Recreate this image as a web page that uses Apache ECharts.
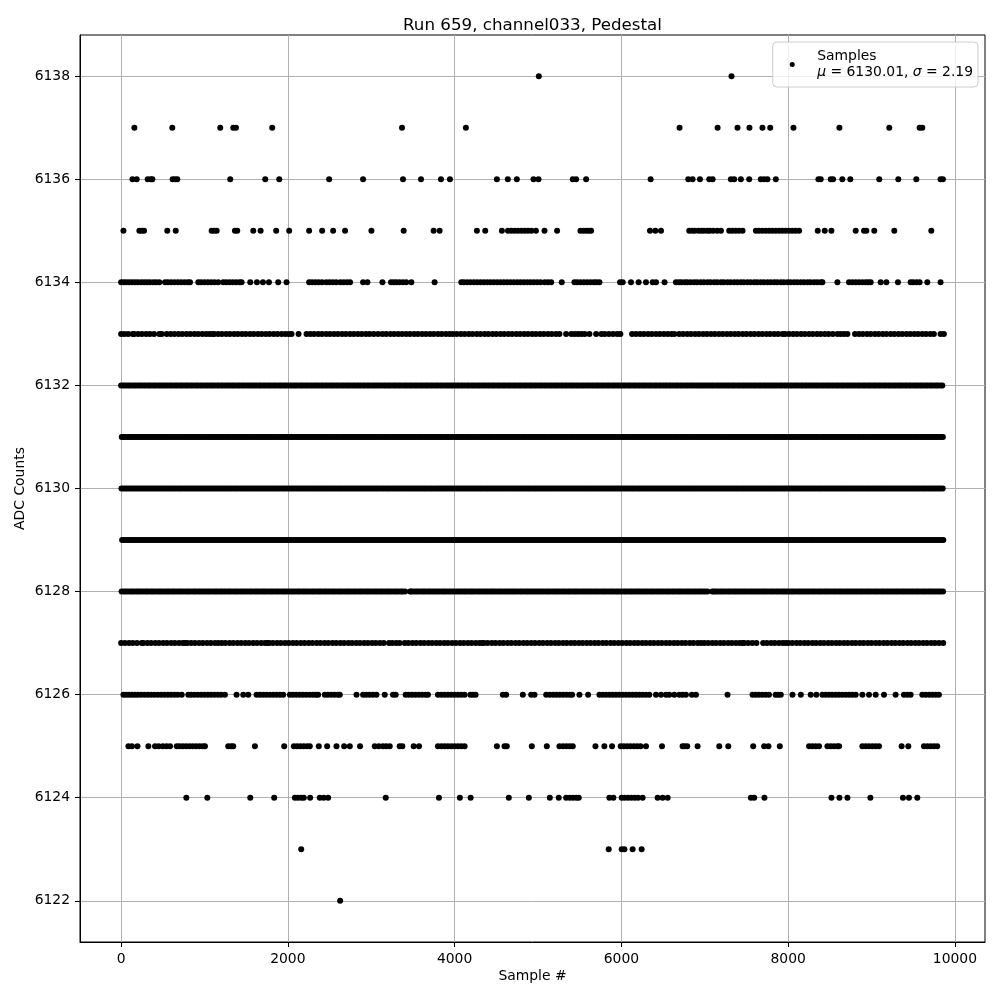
<!DOCTYPE html>
<html>
<head>
<meta charset="utf-8">
<title>Run 659, channel033, Pedestal</title>
<script src="https://cdn.jsdelivr.net/npm/echarts@6.0.0/dist/echarts.min.js"></script>
<style>
  html, body { margin: 0; padding: 0; background: #fff; }
  #chart { width: 1000px; height: 1000px; }
</style>
</head>
<body>
<div id="chart"></div>
<script>
// sample numbers, one array per ADC value
const s6138 = [5010, 7321];
const s6137 = [159, 614, 1189, 1345, 1378, 1812, 3369, 4135, 6698, 7154, 7393, 7536, 7692, 7785, 8064, 8615, 9213, 9577, 9609];
const s6136 = [136, 187, 319, 355, 375, 618, 647, 674, 1309, 1729, 1897, 2495, 2902, 3381, 3597, 3836, 3944, 4507, 4638, 4746, 4946, 5006, 5417, 5457, 5577, 6351, 6802, 6854, 6942, 7054, 7094, 7313, 7353, 7433, 7533, 7672, 7712, 7752, 7852, 8363, 8391, 8511, 8539, 8650, 8746, 9093, 9321, 9537, 9828, 9856];
const s6135 = [28, 219, 247, 275, 554, 655, 1086, 1114, 1146, 1365, 1393, 1585, 1673, 1860, 2016, 2255, 2411, 2543, 2686, 3002,
  3389, 3748, 3820, 4267, 4367, 4567, 4640, 4680, 4720, 4760, 4800, 4840, 4880, 4920, 4975, 5078, 5229, 5509, 5545, 5580, 5610, 5637, 6343, 6407, 6475,
  6814, 6850, 6880, 6925, 6960, 6990, 7030, 7060, 7100, 7150, 7194, 7293, 7330, 7370, 7410, 7453,
  7613, 7650, 7690, 7730, 7770, 7810, 7850, 7890, 7930, 7970, 8010, 8050, 8090, 8132, 8355, 8439, 8519, 8810, 8910, 8938, 9033, 9273, 9717];
const s6134 = [0, 30, 60, 95, 130, 165, 200, 240, 275, 310, 345, 385, 420, 458, 527, 560, 600, 640, 680, 720, 760, 800, 826,
  926, 960, 1000, 1040, 1080, 1120, 1165, 1225, 1260, 1300, 1340, 1380, 1420, 1445, 1549, 1629, 1701, 1773, 1884, 1984,
  2255, 2290, 2330, 2370, 2410, 2460, 2500, 2540, 2580, 2630, 2670, 2710, 2746, 2902, 2954, 3134, 3237, 3270, 3302, 3340, 3380, 3420, 3481, 3760,
  4080, 4110, 4150, 4190, 4230, 4270, 4310, 4350, 4390, 4430, 4470, 4510, 4550, 4590, 4630, 4670, 4710, 4750, 4790, 4830, 4870, 4910, 4950, 4990, 5030, 5080, 5120, 5158,
  5285, 5437, 5470, 5510, 5550, 5590, 5630, 5670, 5700, 5737, 5984, 6016, 6115, 6207, 6295, 6375, 6415, 6518, 6654, 6690, 6720, 6760, 6790,
  6830, 6872, 6908, 6951, 6989, 7033, 7068, 7112, 7149, 7193, 7228, 7271, 7309, 7352, 7391, 7433, 7468, 7512, 7549, 7593, 7628, 7671, 7709, 7752, 7791, 7833, 7868, 7912, 7949, 7993, 8028, 8071, 8109, 8152, 8191, 8233, 8268, 8312, 8349, 8392, 8411,
  8591, 8730, 8770, 8810, 8850, 8890, 8930, 8960, 8990, 9110, 9178, 9317, 9469, 9500, 9540, 9577, 9669, 9828];
const s6133 = [0, 40, 85, 139, 159, 205, 250, 300, 345, 395, 458, 487,
  547, 595, 640, 690, 735, 785, 830, 880, 925, 975, 1020, 1060, 1094,
  1118, 1165, 1210, 1260, 1305, 1355, 1400, 1450, 1495, 1545, 1590, 1640, 1685, 1735, 1780, 1830, 1875, 1925, 1970, 2010, 2044, 2128,
  2224, 2270, 2315, 2365, 2410, 2460, 2505, 2555, 2600, 2650, 2695, 2745, 2790, 2840, 2885, 2935, 2980, 3030, 3082,
  3134, 3180, 3230, 3275, 3325, 3370, 3420, 3465, 3515, 3560, 3610, 3655, 3705, 3750, 3800, 3845, 3895, 3940,
  3980, 4025, 4075, 4120, 4170, 4215, 4265, 4310, 4360, 4405, 4455, 4500, 4550, 4595, 4645, 4690, 4740, 4785, 4835, 4880, 4930, 4975, 5025, 5070, 5120, 5165, 5215, 5257,
  5337, 5400, 5440, 5480, 5520, 5560, 5617, 5697, 5760, 5800, 5850, 5900, 5950, 5988,
  6128, 6175, 6225, 6270, 6320, 6365, 6415, 6460, 6510, 6555, 6600, 6635,
  6694, 6740, 6790, 6835, 6885, 6930, 6980, 7025, 7075, 7120, 7170, 7215, 7265, 7310, 7360, 7405, 7455, 7500, 7550, 7595, 7645, 7690, 7740, 7785, 7835, 7880, 7932,
  7964, 8010, 8060, 8105, 8155, 8200, 8250, 8295, 8345, 8390, 8440, 8485, 8535, 8591, 8631, 8670, 8711,
  8802, 8850, 8895, 8945, 8990, 9040, 9085, 9135, 9180, 9230, 9275, 9325, 9370, 9420, 9465, 9515, 9560, 9610, 9655, 9705, 9748, 9828, 9868];
const s6132 = [0,26,49,76,99,125,152,174,201,224, 250,276,299,326,349,375,402,424,451,474,
  500,526,549,576,599,625,652,674,701,724, 750,776,799,826,849,875,902,924,951,974,
  1000,1026,1049,1076,1099,1125,1152,1174,1201,1224, 1250,1276,1299,1326,1349,1375,1402,1424,1451,1474,
  1500,1526,1549,1576,1599,1625,1652,1674,1701,1724, 1750,1776,1799,1826,1849,1875,1902,1924,1951,1974,
  2000,2026,2049,2076,2099,2125,2152,2174,2201,2224, 2250,2276,2299,2326,2349,2375,2402,2424,2451,2474,
  2500,2526,2549,2576,2599,2625,2652,2674,2701,2724, 2750,2776,2799,2826,2849,2875,2902,2924,2951,2974,
  3000,3026,3049,3076,3099,3125,3152,3174,3201,3224, 3250,3276,3299,3326,3349,3375,3402,3424,3451,3474,
  3500,3526,3549,3576,3599,3625,3652,3674,3701,3724, 3750,3776,3799,3826,3849,3875,3902,3924,3951,3974,
  4000,4026,4049,4076,4099,4125,4152,4174,4201,4224, 4250,4276,4299,4326,4349,4375,4402,4424,4451,4474,
  4500,4526,4549,4576,4599,4625,4652,4674,4701,4724, 4750,4776,4799,4826,4849,4875,4902,4924,4951,4974,
  5000,5026,5049,5076,5099,5125,5152,5174,5201,5224, 5250,5276,5299,5326,5349,5375,5402,5424,5451,5474,
  5500,5526,5549,5576,5599,5625,5652,5674,5701,5724, 5750,5776,5799,5826,5849,5875,5902,5924,5951,5974,
  6000,6026,6049,6076,6099,6125,6152,6174,6201,6224, 6250,6276,6299,6326,6349,6375,6402,6424,6451,6474,
  6500,6526,6549,6576,6599,6625,6652,6674,6701,6724, 6750,6776,6799,6826,6849,6875,6902,6924,6951,6974,
  7000,7026,7049,7076,7099,7125,7152,7174,7201,7224, 7250,7276,7299,7326,7349,7375,7402,7424,7451,7474,
  7500,7526,7549,7576,7599,7625,7652,7674,7701,7724, 7750,7776,7799,7826,7849,7875,7902,7924,7951,7974,
  8000,8026,8049,8076,8099,8125,8152,8174,8201,8224, 8250,8276,8299,8326,8349,8375,8402,8424,8451,8474,
  8500,8526,8549,8576,8599,8625,8652,8674,8701,8724, 8750,8776,8799,8826,8849,8875,8902,8924,8951,8974,
  9000,9026,9049,9076,9099,9125,9152,9174,9201,9224, 9250,9276,9299,9326,9349,9375,9402,9424,9451,9474,
  9500,9526,9549,9576,9599,9625,9652,9674,9701,9724, 9750,9776,9799,9826,9849];
const s6131 = [8,31,57,83,106,133,158,181,207,232, 258,281,307,333,356,383,408,431,457,482,
  508,531,557,583,606,633,658,681,707,732, 758,781,807,833,856,883,908,931,957,982,
  1008,1031,1057,1083,1106,1133,1158,1181,1207,1232, 1258,1281,1307,1333,1356,1383,1408,1431,1457,1482,
  1508,1531,1557,1583,1606,1633,1658,1681,1707,1732, 1758,1781,1807,1833,1856,1883,1908,1931,1957,1982,
  2008,2031,2057,2083,2106,2133,2158,2181,2207,2232, 2258,2281,2307,2333,2356,2383,2408,2431,2457,2482,
  2508,2531,2557,2583,2606,2633,2658,2681,2707,2732, 2758,2781,2807,2833,2856,2883,2908,2931,2957,2982,
  3008,3031,3057,3083,3106,3133,3158,3181,3207,3232, 3258,3281,3307,3333,3356,3383,3408,3431,3457,3482,
  3508,3531,3557,3583,3606,3633,3658,3681,3707,3732, 3758,3781,3807,3833,3856,3883,3908,3931,3957,3982,
  4008,4031,4057,4083,4106,4133,4158,4181,4207,4232, 4258,4281,4307,4333,4356,4383,4408,4431,4457,4482,
  4508,4531,4557,4583,4606,4633,4658,4681,4707,4732, 4758,4781,4807,4833,4856,4883,4908,4931,4957,4982,
  5008,5031,5057,5083,5106,5133,5158,5181,5207,5232, 5258,5281,5307,5333,5356,5383,5408,5431,5457,5482,
  5508,5531,5557,5583,5606,5633,5658,5681,5707,5732, 5758,5781,5807,5833,5856,5883,5908,5931,5957,5982,
  6008,6031,6057,6083,6106,6133,6158,6181,6207,6232, 6258,6281,6307,6333,6356,6383,6408,6431,6457,6482,
  6508,6531,6557,6583,6606,6633,6658,6681,6707,6732, 6758,6781,6807,6833,6856,6883,6908,6931,6957,6982,
  7008,7031,7057,7083,7106,7133,7158,7181,7207,7232, 7258,7281,7307,7333,7356,7383,7408,7431,7457,7482,
  7508,7531,7557,7583,7606,7633,7658,7681,7707,7732, 7758,7781,7807,7833,7856,7883,7908,7931,7957,7982,
  8008,8031,8057,8083,8106,8133,8158,8181,8207,8232, 8258,8281,8307,8333,8356,8383,8408,8431,8457,8482,
  8508,8531,8557,8583,8606,8633,8658,8681,8707,8732, 8758,8781,8807,8833,8856,8883,8908,8931,8957,8982,
  9008,9031,9057,9083,9106,9133,9158,9181,9207,9232, 9258,9281,9307,9333,9356,9383,9408,9431,9457,9482,
  9508,9531,9557,9583,9606,9633,9658,9681,9707,9732, 9758,9781,9807,9833,9856];
const s6130 = [4,29,54,78,104,129,153,179,204,228, 254,279,304,328,354,379,403,429,454,478,
  504,529,554,578,604,629,653,679,704,728, 754,779,804,828,854,879,903,929,954,978,
  1004,1029,1054,1078,1104,1129,1153,1179,1204,1228, 1254,1279,1304,1328,1354,1379,1403,1429,1454,1478,
  1504,1529,1554,1578,1604,1629,1653,1679,1704,1728, 1754,1779,1804,1828,1854,1879,1903,1929,1954,1978,
  2004,2029,2054,2078,2104,2129,2153,2179,2204,2228, 2254,2279,2304,2328,2354,2379,2403,2429,2454,2478,
  2504,2529,2554,2578,2604,2629,2653,2679,2704,2728, 2754,2779,2804,2828,2854,2879,2903,2929,2954,2978,
  3004,3029,3054,3078,3104,3129,3153,3179,3204,3228, 3254,3279,3304,3328,3354,3379,3403,3429,3454,3478,
  3504,3529,3554,3578,3604,3629,3653,3679,3704,3728, 3754,3779,3804,3828,3854,3879,3903,3929,3954,3978,
  4004,4029,4054,4078,4104,4129,4153,4179,4204,4228, 4254,4279,4304,4328,4354,4379,4403,4429,4454,4478,
  4504,4529,4554,4578,4604,4629,4653,4679,4704,4728, 4754,4779,4804,4828,4854,4879,4903,4929,4954,4978,
  5004,5029,5054,5078,5104,5129,5153,5179,5204,5228, 5254,5279,5304,5328,5354,5379,5403,5429,5454,5478,
  5504,5529,5554,5578,5604,5629,5653,5679,5704,5728, 5754,5779,5804,5828,5854,5879,5903,5929,5954,5978,
  6004,6029,6054,6078,6104,6129,6153,6179,6204,6228, 6254,6279,6304,6328,6354,6379,6403,6429,6454,6478,
  6504,6529,6554,6578,6604,6629,6653,6679,6704,6728, 6754,6779,6804,6828,6854,6879,6903,6929,6954,6978,
  7004,7029,7054,7078,7104,7129,7153,7179,7204,7228, 7254,7279,7304,7328,7354,7379,7403,7429,7454,7478,
  7504,7529,7554,7578,7604,7629,7653,7679,7704,7728, 7754,7779,7804,7828,7854,7879,7903,7929,7954,7978,
  8004,8029,8054,8078,8104,8129,8153,8179,8204,8228, 8254,8279,8304,8328,8354,8379,8403,8429,8454,8478,
  8504,8529,8554,8578,8604,8629,8653,8679,8704,8728, 8754,8779,8804,8828,8854,8879,8903,8929,8954,8978,
  9004,9029,9054,9078,9104,9129,9153,9179,9204,9228, 9254,9279,9304,9328,9354,9379,9403,9429,9454,9478,
  9504,9529,9554,9578,9604,9629,9653,9679,9704,9728, 9754,9779,9804,9828,9854];
const s6129 = [12,36,61,87,111,137,161,186,212,236, 262,286,311,337,361,387,411,436,462,486,
  512,536,561,587,611,637,661,686,712,736, 762,786,811,837,861,887,911,936,962,986,
  1012,1036,1061,1087,1111,1137,1161,1186,1212,1236, 1262,1286,1311,1337,1361,1387,1411,1436,1462,1486,
  1512,1536,1561,1587,1611,1637,1661,1686,1712,1736, 1762,1786,1811,1837,1861,1887,1911,1936,1962,1986,
  2012,2036,2061,2087,2111,2137,2161,2186,2212,2236, 2262,2286,2311,2337,2361,2387,2411,2436,2462,2486,
  2512,2536,2561,2587,2611,2637,2661,2686,2712,2736, 2762,2786,2811,2837,2861,2887,2911,2936,2962,2986,
  3012,3036,3061,3087,3111,3137,3161,3186,3212,3236, 3262,3286,3311,3337,3361,3387,3411,3436,3462,3486,
  3512,3536,3561,3587,3611,3637,3661,3686,3712,3736, 3762,3786,3811,3837,3861,3887,3911,3936,3962,3986,
  4012,4036,4061,4087,4111,4137,4161,4186,4212,4236, 4262,4286,4311,4337,4361,4387,4411,4436,4462,4486,
  4512,4536,4561,4587,4611,4637,4661,4686,4712,4736, 4762,4786,4811,4837,4861,4887,4911,4936,4962,4986,
  5012,5036,5061,5087,5111,5137,5161,5186,5212,5236, 5262,5286,5311,5337,5361,5387,5411,5436,5462,5486,
  5512,5536,5561,5587,5611,5637,5661,5686,5712,5736, 5762,5786,5811,5837,5861,5887,5911,5936,5962,5986,
  6012,6036,6061,6087,6111,6137,6161,6186,6212,6236, 6262,6286,6311,6337,6361,6387,6411,6436,6462,6486,
  6512,6536,6561,6587,6611,6637,6661,6686,6712,6736, 6762,6786,6811,6837,6861,6887,6911,6936,6962,6986,
  7012,7036,7061,7087,7111,7137,7161,7186,7212,7236, 7262,7286,7311,7337,7361,7387,7411,7436,7462,7486,
  7512,7536,7561,7587,7611,7637,7661,7686,7712,7736, 7762,7786,7811,7837,7861,7887,7911,7936,7962,7986,
  8012,8036,8061,8087,8111,8137,8161,8186,8212,8236, 8262,8286,8311,8337,8361,8387,8411,8436,8462,8486,
  8512,8536,8561,8587,8611,8637,8661,8686,8712,8736, 8762,8786,8811,8837,8861,8887,8911,8936,8962,8986,
  9012,9036,9061,9087,9111,9137,9161,9186,9212,9236, 9262,9286,9311,9337,9361,9387,9411,9436,9462,9486,
  9512,9536,9561,9587,9611,9637,9661,9686,9712,9736, 9762,9786,9811,9837,9861];
const s6128 = [6,33,56,81,108,131,156,183,206,231, 256,283,306,331,358,381,406,433,456,481,
  506,533,556,581,608,631,656,683,706,731, 756,783,806,831,858,881,906,933,956,981,
  1006,1033,1056,1081,1108,1131,1156,1183,1206,1231, 1256,1283,1306,1331,1358,1381,1406,1433,1456,1481,
  1506,1533,1556,1581,1608,1631,1656,1683,1706,1731, 1756,1783,1806,1831,1858,1881,1906,1933,1956,1981,
  2006,2033,2056,2081,2108,2131,2156,2183,2206,2231, 2256,2283,2306,2331,2358,2381,2406,2433,2456,2481,
  2506,2533,2556,2581,2608,2631,2656,2683,2706,2731, 2756,2783,2806,2831,2858,2881,2906,2933,2956,2981,
  3006,3033,3056,3081,3108,3131,3156,3183,3206,3231, 3256,3283,3306,3331,3358,3381,3406,3466,3481,
  3506,3533,3556,3581,3608,3631,3656,3683,3706,3731, 3756,3783,3806,3831,3858,3881,3906,3933,3956,3981,
  4006,4033,4056,4081,4108,4131,4156,4183,4206,4231, 4256,4283,4306,4331,4358,4381,4406,4433,4456,4481,
  4506,4533,4556,4581,4608,4631,4656,4683,4706,4731, 4756,4783,4806,4831,4858,4881,4906,4933,4956,4981,
  5006,5033,5056,5081,5108,5131,5156,5183,5206,5231, 5256,5283,5306,5331,5358,5381,5406,5433,5456,5481,
  5506,5533,5556,5581,5608,5631,5656,5683,5706,5731, 5756,5783,5806,5831,5858,5881,5906,5933,5956,5981,
  6006,6033,6056,6081,6108,6131,6156,6183,6206,6231, 6256,6283,6306,6331,6358,6381,6406,6433,6456,6481,
  6506,6533,6556,6581,6608,6631,6656,6683,6706,6731, 6756,6783,6806,6831,6858,6881,6906,6933,6956,6981,
  7006,7033,7090,7108,7131,7156,7183,7206,7231, 7256,7283,7306,7331,7358,7381,7406,7433,7456,7481,
  7506,7533,7556,7581,7608,7631,7656,7683,7706,7731, 7756,7783,7806,7831,7858,7881,7906,7933,7956,7981,
  8006,8033,8056,8081,8108,8131,8156,8183,8206,8231, 8256,8283,8306,8331,8358,8381,8406,8433,8456,8481,
  8506,8533,8556,8581,8608,8631,8656,8683,8706,8731, 8756,8783,8806,8831,8858,8881,8906,8933,8956,8981,
  9006,9033,9056,9081,9108,9131,9156,9183,9206,9231, 9256,9283,9306,9331,9358,9381,9406,9433,9456,9481,
  9506,9533,9556,9581,9608,9631,9656,9683,9706,9731, 9756,9783,9806,9831,9858];
const s6127 = [0, 45, 95, 140, 190, 247, 267, 315, 360, 410, 455, 505, 550, 600, 645, 695, 740, 766,
  794, 840, 885, 935, 980, 1030, 1075, 1125, 1165, 1206, 1250, 1300, 1345, 1395, 1440, 1490, 1535, 1585, 1630, 1680, 1725, 1752,
  1776, 1820, 1870, 1915, 1965, 2010, 2060, 2105, 2155, 2200, 2250, 2295, 2345, 2390, 2440, 2485, 2535, 2580, 2630, 2675, 2725, 2770, 2820, 2865, 2915, 2960, 3010, 3055, 3105, 3150, 3213,
  3253, 3300, 3341, 3401, 3445, 3495, 3540, 3590, 3635, 3685, 3730, 3780, 3825, 3875, 3920, 3970, 4015, 4065, 4110, 4160, 4205, 4255, 4300, 4331,
  4351, 4395, 4445, 4490, 4540, 4585, 4635, 4680, 4730, 4775, 4825, 4870, 4920, 4965, 5015, 5060, 5110, 5155, 5205, 5250, 5300, 5345, 5395, 5440, 5490, 5535, 5585, 5630, 5680, 5725, 5775, 5820, 5870, 5915, 5965, 6010, 6060, 6105, 6155, 6200, 6250, 6295, 6345, 6390, 6440, 6485, 6535, 6580, 6630, 6675, 6725, 6770, 6820, 6865, 6915, 6954,
  6994, 7040, 7090, 7135, 7185, 7230, 7280, 7325, 7375, 7420, 7453, 7473, 7520, 7570, 7620, 7700, 7745, 7795, 7840, 7890, 7935, 7972,
  8004, 8050, 8100, 8145, 8195, 8240, 8290, 8335, 8385, 8430, 8480, 8525, 8575, 8620, 8670, 8715, 8765, 8810, 8860, 8905, 8955, 9000, 9050, 9095, 9145, 9190, 9240, 9285, 9335, 9380, 9430, 9475, 9525, 9570, 9620, 9665, 9715, 9760, 9810, 9860];
const s6126 = [28, 60, 95, 130, 165, 200, 240, 280, 320, 360, 400, 440, 480, 520, 560, 600, 640, 680, 727,
  806, 840, 880, 920, 960, 1000, 1040, 1080, 1120, 1160, 1200, 1245, 1385, 1465, 1525, 1625, 1665, 1705, 1745, 1785, 1825, 1865, 1905, 1944,
  2024, 2060, 2100, 2140, 2180, 2220, 2260, 2300, 2335, 2363, 2443, 2480, 2520, 2560, 2600, 2623, 2823, 2902, 2940, 2980, 3020, 3062, 3162, 3261, 3293,
  3413, 3450, 3490, 3530, 3570, 3610, 3650, 3680, 3800, 3840, 3880, 3920, 3960, 4000, 4040, 4080, 4120, 4190, 4220, 4251, 4578, 4618, 4818, 4918, 4958,
  5098, 5140, 5180, 5220, 5260, 5300, 5340, 5380, 5409, 5497, 5601,
  5737, 5775, 5815, 5855, 5895, 5935, 5975, 6015, 6055, 6095, 6135, 6175, 6215, 6255, 6295, 6335, 6415, 6475, 6535, 6575, 6635, 6695, 6734, 6774, 6846, 6894, 7273,
  7573, 7610, 7650, 7690, 7730, 7770, 7850, 7880, 7912, 8052, 8152, 8271, 8339, 8411, 8450, 8490, 8530, 8570, 8610, 8650, 8690, 8730, 8770, 8810,
  8890, 8970, 9050, 9150, 9289, 9389, 9430, 9469, 9609, 9650, 9690, 9730, 9770, 9808];
const s6125 = [88, 130, 196, 327, 407, 450, 500, 545, 587, 667, 700, 740, 780, 820, 860, 900, 940, 980, 1006, 1285, 1320, 1345, 1605, 1956,
  2072, 2110, 2150, 2190, 2230, 2263, 2371, 2471, 2583, 2675, 2743, 2866, 3042, 3090, 3140, 3180, 3222, 3341, 3373, 3509, 3573,
  3800, 3840, 3880, 3920, 3960, 4000, 4040, 4080, 4120, 4507, 4598, 4626, 4926, 5106, 5257, 5300, 5340, 5380, 5417, 5689, 5796, 5888,
  5992, 6030, 6070, 6110, 6150, 6190, 6230, 6295, 6487, 6734, 6758, 6790, 6914, 7174, 7282, 7581, 7712, 7764, 7900,
  8251, 8290, 8330, 8371, 8471, 8510, 8550, 8590, 8611, 8890, 8930, 8970, 9010, 9050, 9090, 9361, 9441, 9629, 9670, 9710, 9750, 9788];
const s6124 = [782, 1034, 1549, 1836, 2084, 2120, 2160, 2191, 2267, 2383, 2430, 2483, 3174, 3812, 4063, 4192, 4650, 4890, 5142, 5249,
  5337, 5380, 5420, 5460, 5489, 5856, 5904, 6004, 6040, 6080, 6120, 6160, 6200, 6255, 6435, 6495, 6555,
  7553, 7593, 7716, 8519, 8615, 8711, 8986, 9377, 9449, 9549];
const s6123 = [2160, 5848, 6004, 6036, 6135, 6243];
const s6122 = [2627];

const adcLevels = [6122, 6123, 6124, 6125, 6126, 6127, 6128, 6129, 6130, 6131, 6132, 6133, 6134, 6135, 6136, 6137, 6138];
const levelSamples = [s6122, s6123, s6124, s6125, s6126, s6127, s6128, s6129, s6130, s6131, s6132, s6133, s6134, s6135, s6136, s6137, s6138];

const xTicks = [0, 2000, 4000, 6000, 8000, 10000];
const yTicks = [6122, 6124, 6126, 6128, 6130, 6132, 6134, 6136, 6138];

const titleText = 'Run 659, channel033, Pedestal';
const meanText = '6130.01';
const sigmaText = '2.19';

// 把每个 ADC 值的样本拼成 [x, y]
const points = [];
levelSamples.forEach((arr, i) => {
  arr.forEach(x => points.push([x, adcLevels[i]]));
});

const font = 'DejaVu Sans';
const chart = echarts.init(document.getElementById('chart'));

const option = {
  animation: false,
  backgroundColor: '#fff',
  title: {
    text: titleText,
    left: 398,
    top: 12,
    textStyle: { fontFamily: font, fontSize: 16.7, fontWeight: 'normal', color: '#000' }
  },
  legend: {
    right: 22,
    top: 42,
    icon: 'circle',
    itemWidth: 40,
    itemHeight: 5,
    padding: [6, 5, 6, 17],
    backgroundColor: 'rgba(255,255,255,0.8)',
    borderColor: '#cccccc',
    borderWidth: 1,
    borderRadius: 4,
    formatter: () => 'Samples\n{i|μ} = ' + meanText + ', {i|σ} = ' + sigmaText,
    textStyle: {
      fontFamily: font, fontSize: 13.9, color: '#000', lineHeight: 16.5,
      rich: { i: { fontFamily: font, fontSize: 13.9, fontStyle: 'italic', color: '#000', lineHeight: 16.5 } }
    }
  },
  grid: {
    left: 80, right: 15, top: 35, bottom: 58,
    show: true, borderColor: '#000', borderWidth: 1
  },
  xAxis: {
    type: 'value',
    min: -493,
    max: 10361,
    name: 'Sample #',
    nameLocation: 'middle',
    nameGap: 27,
    nameMoveOverlap: false,
    nameTextStyle: { fontFamily: font, fontSize: 13.9, color: '#000' },
    axisLine: { show: true, onZero: false, lineStyle: { color: '#000', width: 1 } },
    axisTick: { show: true, customValues: xTicks, length: 5, lineStyle: { color: '#000', width: 1 } },
    axisLabel: { customValues: xTicks, margin: 10, fontFamily: font, fontSize: 13.9, color: '#000', formatter: v => String(v) },
    splitLine: { show: true, lineStyle: { color: '#b0b0b0', width: 1 } }
  },
  yAxis: {
    type: 'value',
    min: 6121.2,
    max: 6138.8,
    name: 'ADC Counts',
    nameLocation: 'middle',
    nameGap: 53,
    nameMoveOverlap: false,
    nameTextStyle: { fontFamily: font, fontSize: 13.9, color: '#000' },
    axisLine: { show: true, onZero: false, lineStyle: { color: '#000', width: 1 } },
    axisTick: { show: true, customValues: yTicks, length: 5, lineStyle: { color: '#000', width: 1 } },
    axisLabel: { customValues: yTicks, margin: 10, fontFamily: font, fontSize: 13.9, color: '#000', formatter: v => String(v) },
    splitLine: { show: true, lineStyle: { color: '#b0b0b0', width: 1 } }
  },
  series: [
    {
      name: 'Samples',
      type: 'scatter',
      symbol: 'circle',
      symbolSize: 6,
      silent: true,
      progressive: 0,
      itemStyle: { color: '#000', opacity: 1 },
      data: points
    }
  ]
};

chart.setOption(option);
</script>
</body>
</html>
